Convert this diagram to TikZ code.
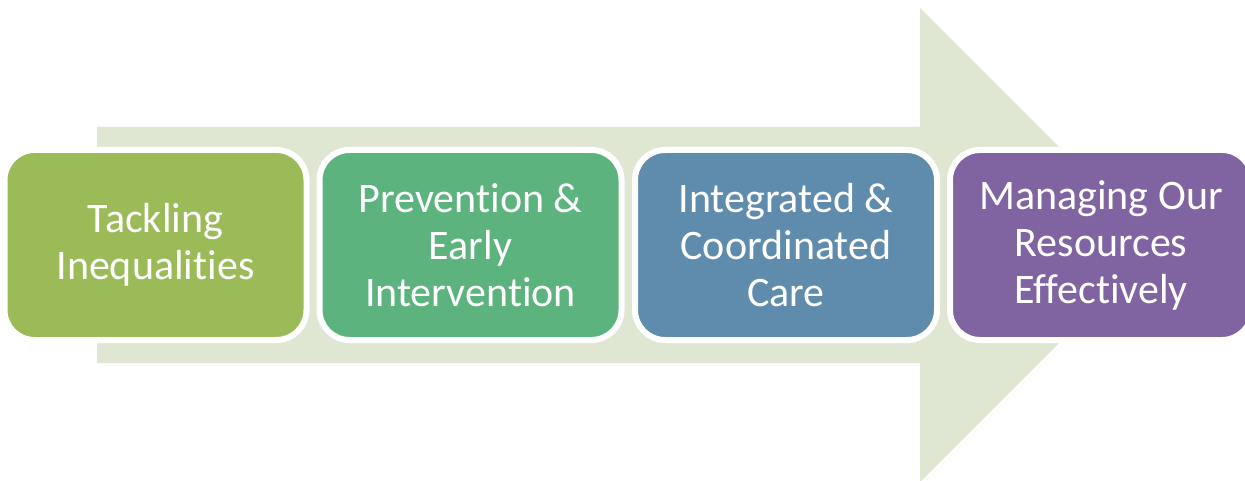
\documentclass[tikz,border=0pt]{standalone}
\usepackage{fontspec}
\setmainfont{Carlito}[Ligatures=NoCommon]
\definecolor{arrowbg}{HTML}{DFE7D3}
\definecolor{cA}{HTML}{9BBB59}
\definecolor{cB}{HTML}{5DB37E}
\definecolor{cC}{HTML}{5F8CAD}
\definecolor{cD}{HTML}{8064A2}
\begin{document}
\begin{tikzpicture}[x=1pt,y=-1pt,
  stepbox/.style={rectangle, rounded corners=30pt, minimum width=302pt, minimum height=190pt,
    draw=white, line width=6pt, text=white, align=center,
    font=\fontsize{42}{47}\selectfont}]
\useasboundingbox (0,0) rectangle (1245,481);
\clip (0,0) rectangle (1245,481);
\fill[arrowbg] (97,127) -- (920,127) -- (920,8) -- (1157,245) -- (920,482) -- (920,363) -- (97,363) -- cycle;
\node[stepbox, fill=cA] (b1) at (155.5,245) {Tackling\\Inequalities};
\node[stepbox, fill=cB] (b2) at (470.5,245) {Prevention \&\\Early\\Intervention};
\node[stepbox, fill=cC] (b3) at (786,245) {Integrated \&\\Coordinated\\Care};
\node[stepbox, fill=cD] (b4) at (1101,245) {Managing Our\\Resources\\Effectively};
\end{tikzpicture}
\end{document}
